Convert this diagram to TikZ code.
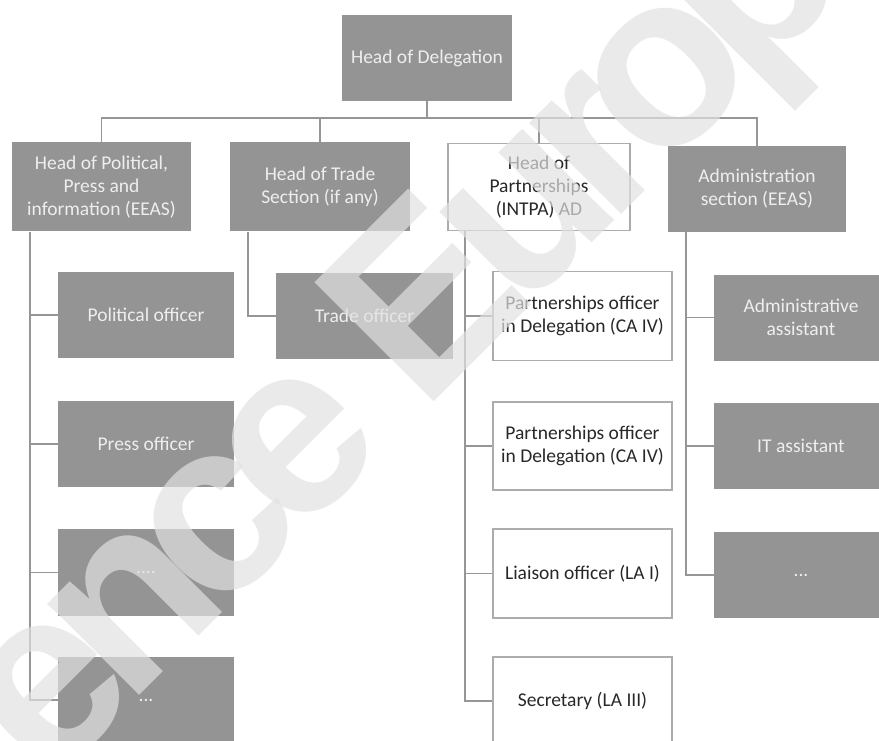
\documentclass[tikz,border=0pt]{standalone}
\usepackage{fontspec}
\setmainfont{Carlito}
\newfontfamily\wmfont{Liberation Sans}[LetterSpace=-10]
\definecolor{boxgray}{RGB}{148,148,148}
\definecolor{linegray}{RGB}{150,150,150}
\definecolor{wboxline}{RGB}{172,172,172}
\definecolor{graytext}{RGB}{238,238,238}
\definecolor{darktext}{RGB}{40,40,40}
\definecolor{wmcol}{RGB}{226,226,226}
\begin{document}
\begin{tikzpicture}[x=1pt,y=-1pt,
  boxbase/.style={inner sep=2pt, align=center, font=\fontsize{19.5}{23}\selectfont},
  graybox/.style={boxbase, fill=boxgray, text=graytext},
  whitebox/.style={boxbase, fill=white, draw=wboxline, line width=1.5pt, text=darktext},
  conn/.style={draw=linegray, line width=1.5pt},
  wm/.style={rotate=45, text=wmcol, text opacity=0.69, inner sep=0pt,
    font=\wmfont\bfseries\fontsize{245}{245}\selectfont}]
\fill[white] (0,0) rectangle (879,741);
\useasboundingbox (0,0) rectangle (879,741);
\begin{scope}
\clip (0,0) rectangle (879,741);
% level 1
\node[graybox, minimum width=170pt, minimum height=86pt] (hod) at (427,58) {Head of Delegation};
% level 2
\node[graybox, minimum width=179pt, minimum height=89pt] (hpol) at (101.5,187) {Head of Political,\\Press and\\information (EEAS)};
\node[graybox, minimum width=180pt, minimum height=89pt] (htrade) at (320,187) {Head of Trade\\Section (if any)};
\node[whitebox, minimum width=182pt, minimum height=87pt] (hpart) at (539,187) {Head of\\Partnerships\\(INTPA) AD};
\node[graybox, minimum width=178pt, minimum height=86pt] (hadm) at (757,189) {Administration\\section (EEAS)};
% political column
\node[graybox, minimum width=176pt, minimum height=86pt] (pol1) at (146,315) {Political officer};
\node[graybox, minimum width=176pt, minimum height=86pt] (pol2) at (146,444) {Press officer};
\node[graybox, minimum width=176pt, minimum height=87pt] (pol3) at (146,572.5) {....};
\node[graybox, minimum width=176pt, minimum height=87pt] (pol4) at (146,700) {...};
% trade column
\node[graybox, minimum width=177pt, minimum height=86pt] (trade1) at (364.5,316) {Trade officer};
% partnerships column
\node[whitebox, minimum width=179pt, minimum height=89pt] (part1) at (582.5,316) {Partnerships officer\\in Delegation (CA IV)};
\node[whitebox, minimum width=179pt, minimum height=88pt] (part2) at (582.5,446) {Partnerships officer\\in Delegation (CA IV)};
\node[whitebox, minimum width=179pt, minimum height=89pt] (part3) at (582.5,573.5) {Liaison officer (LA I)};
\node[whitebox, minimum width=179pt, minimum height=88pt] (part4) at (582.5,701) {Secretary (LA III)};
% administration column
\node[graybox, minimum width=174pt, minimum height=86pt] (adm1) at (801,317.5) {Administrative\\assistant};
\node[graybox, minimum width=174pt, minimum height=86pt] (adm2) at (801,446) {IT assistant};
\node[graybox, minimum width=174pt, minimum height=86pt] (adm3) at (801,575) {...};
% connectors
\coordinate (bus) at (427,118);
\coordinate (lx) at (30,0);
\coordinate (tx) at (248,0);
\coordinate (px) at (465,0);
\coordinate (ax) at (686,0);
\draw[conn] (hod.south) -- (bus);
\draw[conn] (hpol.north) |- (bus) -| (hadm.north);
\draw[conn] (htrade.north) -- (htrade.north |- bus);
\draw[conn] (hpart.north) -- (hpart.north |- bus);
\draw[conn] (hpol.south -| lx) |- (pol4.west);
\foreach \n in {pol1,pol2,pol3} \draw[conn] (\n.west) -- (\n.west -| lx);
\draw[conn] (htrade.south -| tx) |- (trade1.west);
\draw[conn] (hpart.south -| px) |- (part4.west);
\foreach \n in {part1,part2,part3} \draw[conn] (\n.west) -- (\n.west -| px);
\draw[conn] (hadm.south -| ax) |- (adm3.west);
\foreach \n in {adm1,adm2} \draw[conn] (\n.west) -- (\n.west -| ax);
% watermark
\node[wm] (mark) at (268,478) {Reference Europe};
\end{scope}
\end{tikzpicture}
\end{document}
